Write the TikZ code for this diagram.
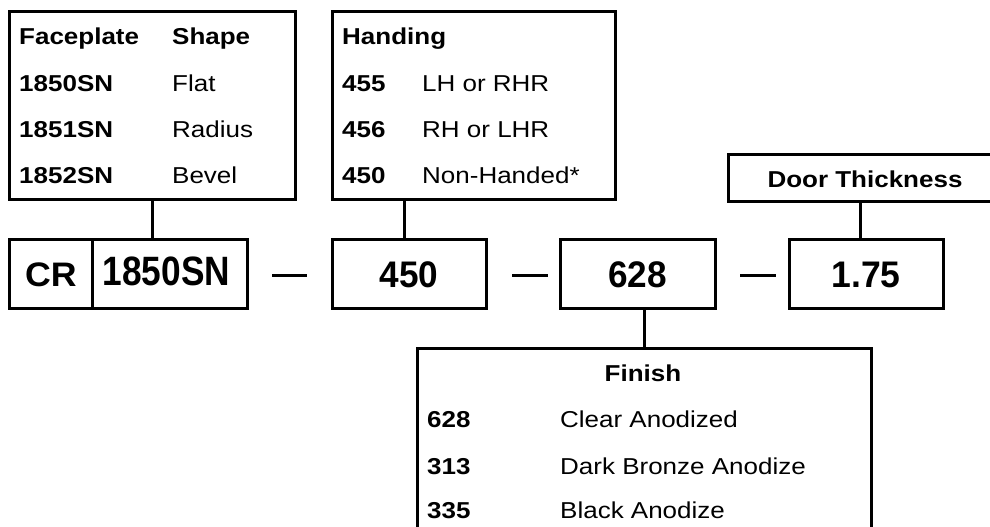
\documentclass[tikz,border=0pt]{standalone}
\usepackage{fontspec}
\usepackage{graphicx}
\setmainfont{Liberation Sans}
\newfontfamily\smfont[FakeStretch=1.13]{Liberation Sans}
\newcommand\hsc[2]{\scalebox{#1}[1]{#2}}
\begin{document}
\begin{tikzpicture}[x=1pt,y=-1pt,
  box/.style={draw, line width=3pt, inner sep=0pt, minimum width=#1},
  conn/.style={line width=3pt},
  txt/.style={inner sep=0pt, anchor=base west, font=\smfont\fontsize{23}{27}\selectfont},
  btxt/.style={txt, font=\smfont\fontsize{23}{27}\selectfont\bfseries},
  big/.style={inner sep=0pt, anchor=base, font=\bfseries}]
\clip (0,0) rectangle (990,527);
% table boxes
\node[box=286pt, minimum height=187pt] (face) at (152,105.5) {};
\node[box=283pt, minimum height=187pt] (hand) at (473.5,105.5) {};
\node[box=274pt, minimum height=47pt] (door) at (865,177.5) {};
\node[box=454pt, minimum height=197pt] (fin) at (644,446.5) {};
% code boxes
\node[box=83pt, minimum height=69pt] (cr) at (50.5,273.5) {};
\node[box=155pt, minimum height=69pt] (sn) at (169.5,273.5) {};
\node[box=154pt, minimum height=69pt] (n450) at (409,273.5) {};
\node[box=155pt, minimum height=69pt] (n628) at (637.5,273.5) {};
\node[box=154pt, minimum height=69pt] (n175) at (866,273.5) {};
% code texts
\node[big] (tcr) at (51,286.5) {\fontsize{34}{40}\selectfont\hsc{1.05}{CR}};
\node[big] (tsn) at (166.5,285) {\fontsize{41}{48}\selectfont\hsc{0.86}{1850SN}};
\node[big] (t450) at (409,287) {\fontsize{37}{42}\selectfont\hsc{0.95}{450}};
\node[big] (t628) at (637.5,287) {\fontsize{37}{42}\selectfont\hsc{0.95}{628}};
\node[big] (t175) at (866,287) {\fontsize{37}{42}\selectfont\hsc{0.96}{1.75}};
% connectors
\draw[conn] (face.south) -- (face.south |- sn.north);
\draw[conn] ([xshift=-5pt]n450.north) -- ([xshift=-5pt]n450.north |- hand.south);
\draw[conn] ([xshift=-5pt]door.south) -- ([xshift=-5pt]door.south |- n175.north);
\draw[conn] (fin.north) -- (fin.north |- n628.south);
% dashes
\draw[conn] (272,275) -- (307,275);
\draw[conn] (512,275) -- (548,275);
\draw[conn] (740,275) -- (776,275);
% faceplate table
\node[btxt] (fh1) at (19,44.5) {Faceplate};
\node[btxt] (fh2) at (172,44.5) {Shape};
\node[btxt] (f1a) at (19,91) {1850SN};
\node[txt]  (f1b) at (172,91) {Flat};
\node[btxt] (f2a) at (19,137) {1851SN};
\node[txt]  (f2b) at (172,137) {Radius};
\node[btxt] (f3a) at (19,183) {1852SN};
\node[txt]  (f3b) at (172,183) {Bevel};
% handing table
\node[btxt] (hh) at (342,44.5) {Handing};
\node[btxt] (h1a) at (342,91) {455};
\node[txt]  (h1b) at (422,91) {LH or RHR};
\node[btxt] (h2a) at (342,137) {456};
\node[txt]  (h2b) at (422,137) {RH or LHR};
\node[btxt] (h3a) at (342,183) {450};
\node[txt]  (h3b) at (422,183) {Non-Handed*};
% door thickness
\node[btxt, anchor=base] (dt) at (865,187.5) {Door Thickness};
% finish table
\node[btxt, anchor=base] (fnh) at (643,381) {Finish};
\node[btxt] (n1a) at (427,427) {628};
\node[txt]  (n1b) at (560,427) {Clear Anodized};
\node[btxt] (n2a) at (427,474) {313};
\node[txt]  (n2b) at (560,474) {Dark Bronze Anodize};
\node[btxt] (n3a) at (427,518) {335};
\node[txt]  (n3b) at (560,518) {Black Anodize};
\end{tikzpicture}
\end{document}
